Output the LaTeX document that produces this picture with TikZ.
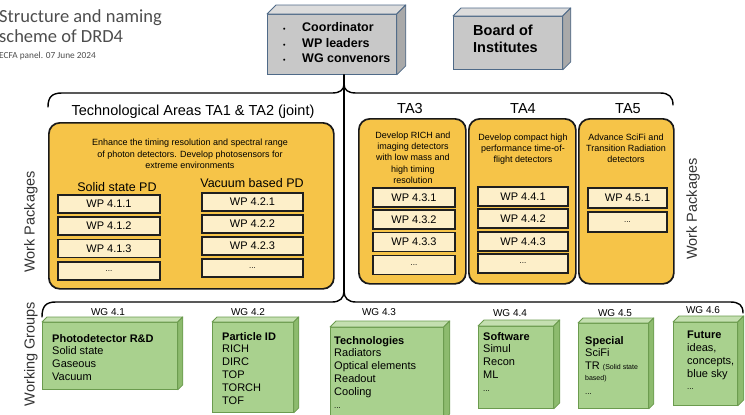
\documentclass[tikz,border=0pt]{standalone}
\usepackage{fontspec}
\setmainfont{Liberation Sans}
\newfontfamily\titlefont{Carlito}
\newcommand\fsz[2]{\fontsize{#1}{#2}\selectfont}

\definecolor{taYellow}{HTML}{F6C448}
\definecolor{wpCream}{HTML}{FDEFC9}
\definecolor{wgGreen}{HTML}{A9D18E}
\definecolor{wgTop}{HTML}{C4DFB0}
\definecolor{wgSide}{HTML}{8DBB6E}
\definecolor{wgEdge}{HTML}{6B9B4E}
\definecolor{boxGray}{HTML}{C8C8C8}
\definecolor{boxTop}{HTML}{DCDCDC}
\definecolor{boxSide}{HTML}{A9A9A9}
\definecolor{boxEdge}{HTML}{4F6A88}
\definecolor{titleGray}{HTML}{4D4D4D}

% top and right faces of an extruded box: node, depth, top fill, side fill, edge colour
\newcommand\extrudebox[5]{%
  \path[fill=#3,draw=#5,line width=0.8pt,line join=round]
    (#1.north west) -- ++(#2,-#2) -- ([shift={(#2,-#2)}]#1.north east) -- (#1.north east) -- cycle;
  \path[fill=#4,draw=#5,line width=0.8pt,line join=round]
    (#1.north east) -- ([shift={(#2,-#2)}]#1.north east) -- ([shift={(#2,-#2)}]#1.south east) -- (#1.south east) -- cycle;}

\tikzset{
  talabel/.style={font=\fsz{14.5}{16}, inner sep=0},
  desc/.style={align=center, font=\fsz{9}{11.3}, inner sep=0, anchor=north},
  wp/.style={draw=black!88, line width=1.3pt, fill=wpCream, inner sep=0, font=\fsz{11}{12}},
  wpdots/.style={wp, font=\fsz{8}{9}},
  tabox/.style={draw=black!90, line width=1.7pt, fill=taYellow, rounded corners=11pt, anchor=north west, inner sep=0},
  wgfront/.style={fill=wgGreen, draw=wgEdge, line width=0.8pt, anchor=north west, inner sep=0},
  wglabel/.style={font=\fsz{10}{12}, inner sep=0},
  wgtext/.style={font=\fsz{11}{12.8}, align=left, anchor=north west, inner sep=0},
  brace/.style={draw=black, line width=1.4pt, line cap=round},
  sidelabel/.style={font=\fsz{14.5}{16}, text=black!80, rotate=90, inner sep=0},
  graybox/.style={fill=boxGray, draw=boxEdge, line width=0.8pt, anchor=north west, inner sep=0}
}

\begin{document}
\begin{tikzpicture}[x=1pt,y=-1pt]
\useasboundingbox (0,0) rectangle (745,415);

% ---- heading ----
\node[anchor=base west, inner sep=0, font=\titlefont\fsz{18.5}{20}, text=titleGray] (title1) at (-1,23) {Structure and naming};
\node[anchor=base west, inner sep=0, font=\titlefont\fsz{18.5}{20}, text=titleGray] (title2) at (-1,42) {scheme of DRD4};
\node[anchor=base west, inner sep=0, font=\titlefont\fsz{9.3}{11}, text=titleGray] (subtitle) at (-1,58) {ECFA panel. 07 June 2024};

% ---- management boxes ----
\node[graybox, minimum width=129, minimum height=60] (coord) at (267,14) {};
\extrudebox{coord}{9}{boxTop}{boxSide}{boxEdge}
\node[anchor=north west, inner sep=0, align=left, font=\bfseries\fsz{12.5}{15.5}] (coordtext) at (283,22.5)
  {\makebox[19pt][l]{\fsz{7}{8}\textbullet}Coordinator\\
   \makebox[19pt][l]{\fsz{7}{8}\textbullet}WP leaders\\
   \makebox[19pt][l]{\fsz{7}{8}\textbullet}WG convenors};

\node[graybox, minimum width=109, minimum height=53] (board) at (453,16) {};
\extrudebox{board}{8}{boxTop}{boxSide}{boxEdge}
\node[anchor=north west, inner sep=0, align=left, font=\bfseries\fsz{14.5}{17}] (boardtext) at (473,25) {Board of\\Institutes};

% ---- braces and stem ----
\coordinate (topcusp) at (344,84);
\coordinate (botcusp) at (344,291);
\draw[brace] (coord.south -| botcusp) -- (botcusp);
\draw[brace] (48,107) .. controls (48,97) and (52,93) .. (62,93) -- (332,93)
  .. controls (340,93) and (344,90) .. (topcusp)
  .. controls (344,90) and (348,93) .. (356,93) -- (660,93)
  .. controls (669,93) and (673,97) .. (673,105);
\draw[brace] (42,317) .. controls (42,306) and (46,302) .. (56,302) -- (332,302)
  .. controls (340,302) and (344,298) .. (botcusp)
  .. controls (344,298) and (348,302) .. (356,302) -- (730,302)
  .. controls (739,302) and (743,305) .. (743,313);

% ---- technological areas ----
\node[talabel] (ta12lbl) at (193,112) {Technological Areas TA1 \& TA2 (joint)};
\node[talabel] (ta3lbl) at (410,109) {TA3};
\node[talabel] (ta4lbl) at (523,109) {TA4};
\node[talabel] (ta5lbl) at (628,109) {TA5};

\node[tabox, minimum width=285, minimum height=166] (ta12) at (48,122) {};
\node[tabox, minimum width=107, minimum height=165] (ta3) at (358,118) {};
\node[tabox, minimum width=107, minimum height=165] (ta4) at (468,118) {};
\node[tabox, minimum width=95, minimum height=165] (ta5) at (578,118) {};

\node[desc] (ta12desc) at (190,139) {Enhance the timing resolution and spectral range\\of photon detectors. Develop photosensors for\\extreme environments};
\node[desc] (ta3desc) at (413,131.5) {Develop RICH and\\imaging detectors\\with low mass and\\high timing\\resolution};
\node[desc] (ta4desc) at (523,133.5) {Develop compact high\\performance time-of-\\flight detectors};
\node[desc] (ta5desc) at (626,133.5) {Advance SciFi and\\Transition Radiation\\detectors};

\node[font=\fsz{12.5}{14}, inner sep=0] (sslbl) at (117,187) {Solid state PD};
\node[font=\fsz{12.5}{14}, inner sep=0] (vblbl) at (252,183) {Vacuum based PD};

% ---- work packages ----
\foreach \n/\yy in {1/204,2/226,3/248.5}
  \node[wp, minimum width=102, minimum height=18] (wp41\n) at (109,\yy) {WP 4.1.\n};
\node[wpdots, minimum width=102, minimum height=18] (wp41x) at (109,271) {...};
\foreach \n/\yy in {1/202,2/224,3/246}
  \node[wp, minimum width=101, minimum height=18] (wp42\n) at (252.5,\yy) {WP 4.2.\n};
\node[wpdots, minimum width=101, minimum height=18] (wp42x) at (252.5,268) {...};
\foreach \n/\yy in {1/197.5,2/219.5,3/242}
  \node[wp, minimum width=82, minimum height=19] (wp43\n) at (414,\yy) {WP 4.3.\n};
\node[wpdots, minimum width=82, minimum height=19] (wp43x) at (414,265) {...};
\foreach \n/\yy in {1/196.5,2/218.5,3/241.5}
  \node[wp, minimum width=90, minimum height=19] (wp44\n) at (523,\yy) {WP 4.4.\n};
\node[wpdots, minimum width=90, minimum height=19] (wp44x) at (523,263.5) {...};
\node[wp, minimum width=79, minimum height=20] (wp451) at (627.5,198) {WP 4.5.1};
\node[wpdots, minimum width=79, minimum height=20] (wp45x) at (627.5,222) {...};

% ---- side captions ----
\node[sidelabel] (wpleft) at (31,222) {Work Packages};
\node[sidelabel] (wpright) at (693,209) {Work Packages};
\node[sidelabel] (wgleft) at (31,354) {Working Groups};

% ---- working groups ----
\node[wglabel] (wg1lbl) at (108,312) {WG 4.1};
\node[wglabel] (wg2lbl) at (248,312) {WG 4.2};
\node[wglabel] (wg3lbl) at (379,312) {WG 4.3};
\node[wglabel] (wg4lbl) at (510,313) {WG 4.4};
\node[wglabel] (wg5lbl) at (615,313) {WG 4.5};
\node[wglabel] (wg6lbl) at (703,310) {WG 4.6};

\node[wgfront, minimum width=135, minimum height=67] (wg1) at (42,322) {};
\extrudebox{wg1}{5}{wgTop}{wgSide}{wgEdge}
\node[wgfront, minimum width=81, minimum height=90] (wg2) at (212,322) {};
\extrudebox{wg2}{5}{wgTop}{wgSide}{wgEdge}
\node[wgfront, minimum width=113, minimum height=92] (wg3) at (330,327) {};
\extrudebox{wg3}{6}{wgTop}{wgSide}{wgEdge}
\node[wgfront, minimum width=75, minimum height=82] (wg4) at (478,326) {};
\extrudebox{wg4}{6}{wgTop}{wgSide}{wgEdge}
\node[wgfront, minimum width=70, minimum height=85] (wg5) at (578,323) {};
\extrudebox{wg5}{5}{wgTop}{wgSide}{wgEdge}
\node[wgfront, minimum width=64, minimum height=83] (wg6) at (673,322) {};
\extrudebox{wg6}{6}{wgTop}{wgSide}{wgEdge}

\node[wgtext] (wg1text) at (52,334) {\textbf{Photodetector R\&D}\\Solid state\\Gaseous\\Vacuum};
\node[wgtext] (wg2text) at (222,332) {\textbf{Particle ID}\\RICH\\DIRC\\TOP\\TORCH\\TOF};
\node[wgtext] (wg3text) at (334,336) {\textbf{Technologies}\\Radiators\\Optical elements\\Readout\\Cooling\\{\fsz{8}{9}...}};
\node[wgtext] (wg4text) at (483,332) {\textbf{Software}\\Simul\\Recon\\ML\\{\fsz{8}{9}...}};
\node[wgtext] (wg5text) at (585,336) {\textbf{Special}\\SciFi\\TR {\fsz{7}{8}(Solid state}\\[-2pt]{\fsz{7}{8}based)}\\[1pt]{\fsz{8}{9}...}};
\node[wgtext] (wg6text) at (687,331) {\textbf{Future}\\ideas,\\concepts,\\blue sky\\{\fsz{8}{9}...}};
\end{tikzpicture}
\end{document}
